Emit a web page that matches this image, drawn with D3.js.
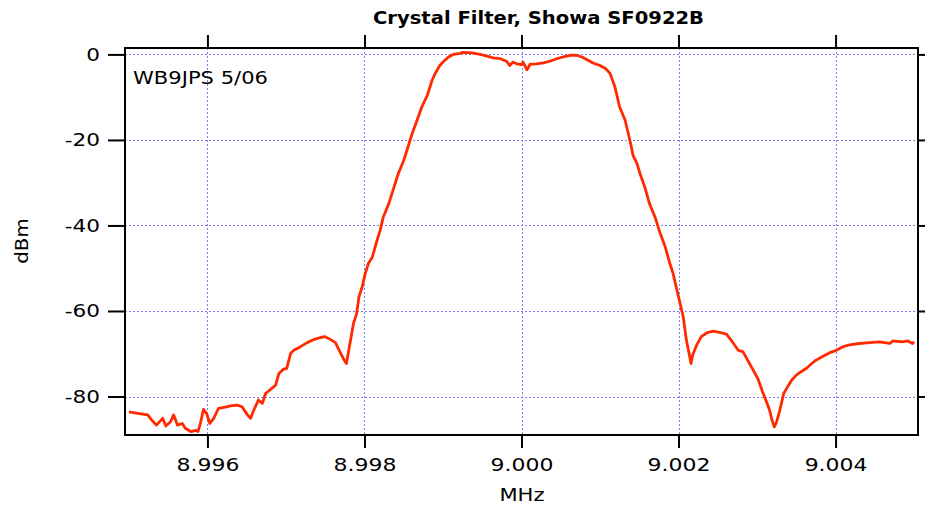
<!DOCTYPE html>
<html>
<head>
<meta charset="utf-8">
<script src="https://cdn.jsdelivr.net/npm/d3@7"></script>
<style>
  html, body { margin: 0; padding: 0; background: #fff; }
  svg { display: block; }
  text { font-family: "DejaVu Sans", Verdana, sans-serif; fill: #000; }
</style>
</head>
<body>
<svg id="chart" width="925" height="506"></svg>
<script>
// ---- Data ----
const title = "Crystal Filter, Showa SF0922B";
const note = "WB9JPS 5/06";
const xLabel = "MHz";
const yLabel = "dBm";
const xTicks = [8.996, 8.998, 9.000, 9.002, 9.004];
const yTicks = [0, -20, -40, -60, -80];
const yTickLabels = ["0", "-20", "-40", "-60", "-80"];
const xDomain = [8.99495, 9.00505];
const yDomain = [-89.0, 1.5];

const freqMHz = [
  8.99500, 8.99513, 8.99524, 8.99529, 8.99535, 8.99543, 8.99547, 8.99553, 8.99557, 8.99562,
  8.99568, 8.99572, 8.99579, 8.99585, 8.99588, 8.99591, 8.99595, 8.99599, 8.99603, 8.99608,
  8.99614, 8.99623, 8.99629, 8.99638, 8.99644, 8.99651, 8.99655, 8.99659, 8.99665, 8.99670,
  8.99674, 8.99682, 8.99687, 8.99691, 8.99697, 8.99701, 8.99706, 8.99710, 8.99718, 8.99727,
  8.99735, 8.99744, 8.99750, 8.99757, 8.99763, 8.99769, 8.99773, 8.99777, 8.99780, 8.99786,
  8.99790, 8.99793, 8.99797, 8.99801, 8.99805, 8.99810, 8.99816, 8.99820, 8.99824, 8.99831,
  8.99837, 8.99843, 8.99850, 8.99856, 8.99860, 8.99867, 8.99873, 8.99880, 8.99886, 8.99890,
  8.99896, 8.99901, 8.99907, 8.99913, 8.99920, 8.99926, 8.99932, 8.99939, 8.99947, 8.99956,
  8.99964, 8.99973, 8.99981, 8.99985, 8.99989, 8.99994, 9.00000, 9.00002, 9.00007, 9.00011,
  9.00019, 9.00028, 9.00036, 9.00045, 9.00053, 9.00062, 9.00070, 9.00077, 9.00083, 9.00091,
  9.00100, 9.00107, 9.00113, 9.00119, 9.00125, 9.00132, 9.00136, 9.00140, 9.00142, 9.00147,
  9.00151, 9.00157, 9.00163, 9.00170, 9.00176, 9.00183, 9.00189, 9.00193, 9.00199, 9.00204,
  9.00206, 9.00210, 9.00216, 9.00218, 9.00223, 9.00229, 9.00236, 9.00244, 9.00252, 9.00261,
  9.00267, 9.00276, 9.00282, 9.00288, 9.00295, 9.00301, 9.00307, 9.00312, 9.00316, 9.00319,
  9.00322, 9.00325, 9.00329, 9.00334, 9.00339, 9.00344, 9.00350, 9.00356, 9.00363, 9.00369,
  9.00375, 9.00384, 9.00392, 9.00401, 9.00409, 9.00418, 9.00430, 9.00443, 9.00456, 9.00469,
  9.00473, 9.00485, 9.00492, 9.00498, 9.00500
];
const levelDbm = [
  -83.6, -84.0, -84.3, -85.5, -86.7, -85.1, -86.9, -85.9, -84.3, -86.7,
  -86.3, -87.5, -88.2, -87.9, -88.2, -86.3, -83.0, -84.0, -86.3, -85.1,
  -82.8, -82.5, -82.2, -82.0, -82.4, -84.3, -85.1, -83.2, -80.8, -81.6,
  -79.3, -78.1, -77.3, -74.6, -73.6, -73.4, -69.9, -69.2, -68.4, -67.4,
  -66.7, -66.2, -66.0, -66.7, -67.4, -69.6, -71.1, -72.3, -69.2, -62.9,
  -60.6, -56.7, -54.4, -51.2, -48.9, -47.4, -43.5, -41.1, -38.0, -34.9,
  -31.4, -27.9, -24.8, -21.3, -18.9, -15.4, -12.3, -9.6, -6.1, -4.5,
  -2.6, -1.6, -0.6, 0.0, 0.2, 0.5, 0.4, 0.3, 0.0, -0.4,
  -0.8, -1.0, -1.6, -2.6, -1.8, -2.2, -2.4, -1.8, -3.6, -2.3,
  -2.2, -2.0, -1.6, -1.0, -0.6, -0.2, -0.2, -0.6, -1.2, -2.0,
  -2.6, -3.3, -4.5, -7.6, -12.3, -15.4, -18.5, -21.7, -23.6, -25.5,
  -27.9, -31.0, -34.9, -38.0, -41.5, -45.0, -48.9, -51.2, -55.9, -59.8,
  -61.4, -66.8, -72.3, -70.3, -68.0, -66.0, -65.1, -64.7, -65.0, -65.4,
  -66.8, -69.2, -69.5, -71.5, -73.8, -75.8, -78.9, -81.2, -83.2, -85.5,
  -87.1, -85.9, -83.2, -79.3, -77.7, -76.2, -75.0, -74.2, -73.4, -72.4,
  -71.5, -70.6, -69.8, -69.2, -68.4, -67.9, -67.6, -67.4, -67.2, -67.6,
  -67.0, -67.2, -67.0, -67.6, -67.2
];

// ---- Layout ----
const plot = { left: 125, top: 48, right: 918, bottom: 435 };
const svg = d3.select("#chart");

const x = d3.scaleLinear().domain(xDomain).range([plot.left, plot.right]);
const y = d3.scaleLinear().domain(yDomain).range([plot.bottom, plot.top]);

function stretch(sel, f) {
  sel.each(function () {
    const len = this.getComputedTextLength();
    d3.select(this).attr("textLength", len * f).attr("lengthAdjust", "spacingAndGlyphs");
  });
}

// Grid
const grid = svg.append("g").attr("stroke", "#7a7aff").attr("stroke-width", 1)
  .attr("stroke-dasharray", "2,2");
grid.selectAll("line.v").data(xTicks).join("line")
  .attr("x1", d => Math.round(x(d)) + 0.5).attr("x2", d => Math.round(x(d)) + 0.5)
  .attr("y1", plot.top).attr("y2", plot.bottom);
grid.selectAll("line.h").data(yTicks).join("line")
  .attr("y1", d => Math.round(y(d)) + 0.5).attr("y2", d => Math.round(y(d)) + 0.5)
  .attr("x1", plot.left).attr("x2", plot.right);

// Curve
const pts = freqMHz.map((f, i) => [f, levelDbm[i]]);
svg.append("defs").append("clipPath").attr("id", "clip")
  .append("rect").attr("x", plot.left).attr("y", plot.top)
  .attr("width", plot.right - plot.left).attr("height", plot.bottom - plot.top);
svg.append("path").datum(pts)
  .attr("clip-path", "url(#clip)")
  .attr("fill", "none").attr("stroke", "#ff2a00").attr("stroke-width", 2.8)
  .attr("stroke-linejoin", "round")
  .attr("d", d3.line().x(d => x(d[0])).y(d => y(d[1])));

// Axes
const axBottom = svg.append("g").attr("transform", `translate(0,${plot.bottom})`)
  .call(d3.axisBottom(x).tickValues(xTicks).tickFormat(d3.format(".3f")).tickSize(13).tickPadding(10));
const axTop = svg.append("g").attr("transform", `translate(0,${plot.top})`)
  .call(d3.axisTop(x).tickValues(xTicks).tickFormat("").tickSize(13));
const axLeft = svg.append("g").attr("transform", `translate(${plot.left},0)`)
  .call(d3.axisLeft(y).tickValues(yTicks).tickFormat((d, i) => yTickLabels[i]).tickSize(17).tickPadding(8));
const axRight = svg.append("g").attr("transform", `translate(${plot.right},0)`)
  .call(d3.axisRight(y).tickValues(yTicks).tickFormat("").tickSize(7));

[axBottom, axTop, axLeft, axRight].forEach(a => {
  a.select(".domain").remove();
  a.selectAll(".tick line").attr("stroke", "#000").attr("stroke-width", 2);
});
axBottom.selectAll(".tick text").attr("font-size", 18).attr("font-family", "DejaVu Sans").attr("fill", "#000");
axLeft.selectAll(".tick text").attr("font-size", 18).attr("font-family", "DejaVu Sans").attr("fill", "#000");
stretch(axBottom.selectAll(".tick text"), 1.22);
stretch(axLeft.selectAll(".tick text"), 1.2);

// Frame
svg.append("rect").attr("x", plot.left).attr("y", plot.top)
  .attr("width", plot.right - plot.left).attr("height", plot.bottom - plot.top)
  .attr("fill", "none").attr("stroke", "#000").attr("stroke-width", 2);

// Texts
const t = svg.append("text").attr("x", (plot.left + plot.right) / 2 + 17).attr("y", 24)
  .attr("text-anchor", "middle").attr("font-size", 18).attr("font-weight", "bold")
  .text(title);
t.attr("textLength", 331).attr("lengthAdjust", "spacingAndGlyphs");

const n = svg.append("text").attr("x", 133).attr("y", 84).attr("font-size", 17.5).text(note);
n.attr("textLength", 135).attr("lengthAdjust", "spacingAndGlyphs");

const xl = svg.append("text").attr("x", 522).attr("y", 501).attr("text-anchor", "middle")
  .attr("font-size", 18).text(xLabel);
stretch(xl, 1.17);

const yl = svg.append("text").attr("transform", "translate(28,241) rotate(-90)")
  .attr("text-anchor", "middle").attr("font-size", 18).text(yLabel);
stretch(yl, 1.1);
</script>
</body>
</html>
